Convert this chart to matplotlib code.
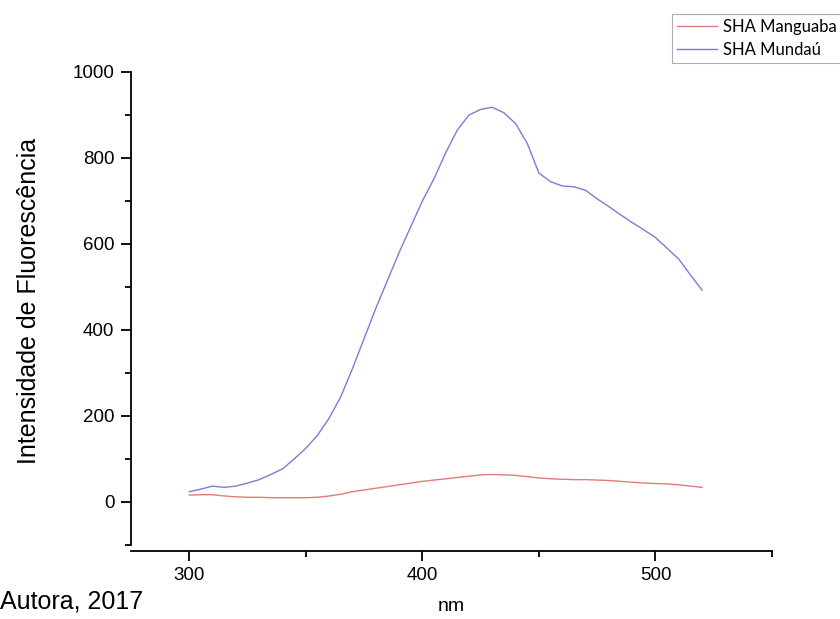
import matplotlib
matplotlib.use("Agg")
import matplotlib.pyplot as plt

# comprimento de onda (nm)
nm = [300, 305, 310, 315, 320, 325, 330, 335, 340, 345, 350, 355, 360, 365,
      370, 375, 380, 385, 390, 395, 400, 405, 410, 415, 420, 425, 430, 435,
      440, 445, 450, 455, 460, 465, 470, 475, 480, 485, 490, 495, 500, 505,
      510, 515, 520]

# SHA Manguaba
manguaba = [16, 17, 17, 14, 12, 11, 11, 10, 10, 10, 10, 11, 14, 18,
            24, 28, 32, 36, 40, 44, 48, 51, 54, 57, 60, 63, 64, 63,
            62, 59, 56, 54, 53, 52, 52, 51, 50, 48, 46, 44, 43, 42,
            40, 37, 34]

# SHA Mundaú
mundau = [24, 30, 37, 34, 37, 44, 52, 64, 77, 100, 125, 155, 195, 245,
          310, 380, 450, 515, 580, 640, 700, 752, 812, 865, 900, 913, 918, 905,
          880, 834, 765, 745, 735, 733, 725, 705, 687, 668, 650, 633, 615, 590,
          565, 528, 493]

plt.rcParams['font.family'] = ['Liberation Sans', 'DejaVu Sans']

fig = plt.figure(figsize=(8.4, 6.19), dpi=100)
ax = fig.add_axes([131 / 840, 1 - 545 / 619, (772 - 131) / 840, (545 - 72) / 619])

l1, = ax.plot(nm, manguaba, color='#e57a7a', lw=1.0, label='SHA Manguaba')
l2, = ax.plot(nm, mundau, color='#7b7bdb', lw=1.0, label='SHA Mundaú')

ax.set_xlim(275, 550)
ax.set_ylim(-100, 1000)
ax.set_xticks([300, 400, 500])
ax.set_xticks([350, 450, 550], minor=True)
ax.set_yticks([0, 200, 400, 600, 800, 1000])
ax.set_yticks([-100, 100, 300, 500, 700, 900], minor=True)

for s in ['top', 'right']:
    ax.spines[s].set_visible(False)
ax.spines['bottom'].set_position(('outward', 4))
ax.spines['left'].set_linewidth(1.3)
ax.spines['bottom'].set_linewidth(1.3)
ax.tick_params(axis='both', which='major', length=7, width=1.3,
               labelsize=13.5, direction='out', pad=5)
ax.tick_params(axis='both', which='minor', length=4, width=1.3, direction='out')

ax.set_ylabel('Intensidade de Fluorescência', fontsize=18)
ax.yaxis.set_label_coords(-0.14, 0.515)
ax.set_xlabel('nm', fontsize=14, va='top')
ax.xaxis.set_label_coords(0.5, -0.112)

fig.text(0.0, 1 - 602 / 619, 'Autora, 2017', fontsize=18,
         ha='left', va='center')

leg = fig.legend(handles=[l1, l2], loc='upper left',
                 bbox_to_anchor=(672 / 840, 1 - 14 / 619),
                 prop={'family': 'Lato', 'size': 12},
                 frameon=True, fancybox=False, edgecolor='#999999',
                 handlelength=2.4, handletextpad=0.35, borderpad=0.3,
                 labelspacing=0.4, borderaxespad=0)
leg.get_frame().set_linewidth(0.8)

fig.savefig('out.png', dpi=100)
